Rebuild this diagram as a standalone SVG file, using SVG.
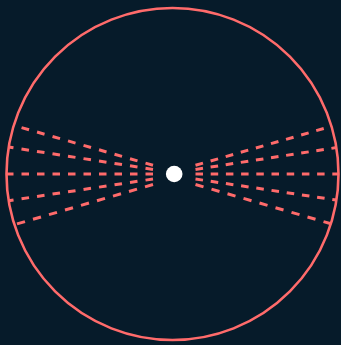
<svg xmlns="http://www.w3.org/2000/svg" width="341" height="345" viewBox="0 0 341 345">
  <style>
    .ring { fill: none; stroke: #ff6b6b; stroke-width: 2.6; }
    .ray { fill: none; stroke: #ff6b6b; stroke-width: 3; stroke-linecap: butt; }
    .dot { fill: #ffffff; }
  </style>
  <rect width="341" height="345" fill="#061b2a"/>
  <g id="ring">
    <circle class="ring" cx="172.5" cy="174" r="166"/>
  </g>
  <g id="rays">
    <line class="ray" x1="153" y1="165.3" x2="13.9" y2="125.4" stroke-dasharray="7.8 8.32"/>
    <line class="ray" x1="153" y1="169.4" x2="8.6" y2="147" stroke-dasharray="7.59 8.1"/>
    <line class="ray" x1="153" y1="174" x2="6.5" y2="174" stroke-dasharray="7.5 8"/>
    <line class="ray" x1="153" y1="179" x2="8.6" y2="200.7" stroke-dasharray="7.58 8.09"/>
    <line class="ray" x1="153" y1="184.5" x2="14.3" y2="224.7" stroke-dasharray="8.33 8.33"/>
    <line class="ray" x1="195.5" y1="165.3" x2="331.5" y2="126.3" stroke-dasharray="7.8 7.9"/>
    <line class="ray" x1="195.5" y1="169.4" x2="336.4" y2="147.6" stroke-dasharray="7.59 7.69"/>
    <line class="ray" x1="195.5" y1="174" x2="338" y2="174" stroke-dasharray="7.5 7.7"/>
    <line class="ray" x1="195.5" y1="179" x2="336.4" y2="200.1" stroke-dasharray="7.58 7.79"/>
    <line class="ray" x1="195.5" y1="184.5" x2="331" y2="223.8" stroke-dasharray="8.33 8.33"/>
  </g>
  <g id="center">
    <circle class="dot" cx="174.2" cy="174" r="8.3"/>
  </g>
</svg>
